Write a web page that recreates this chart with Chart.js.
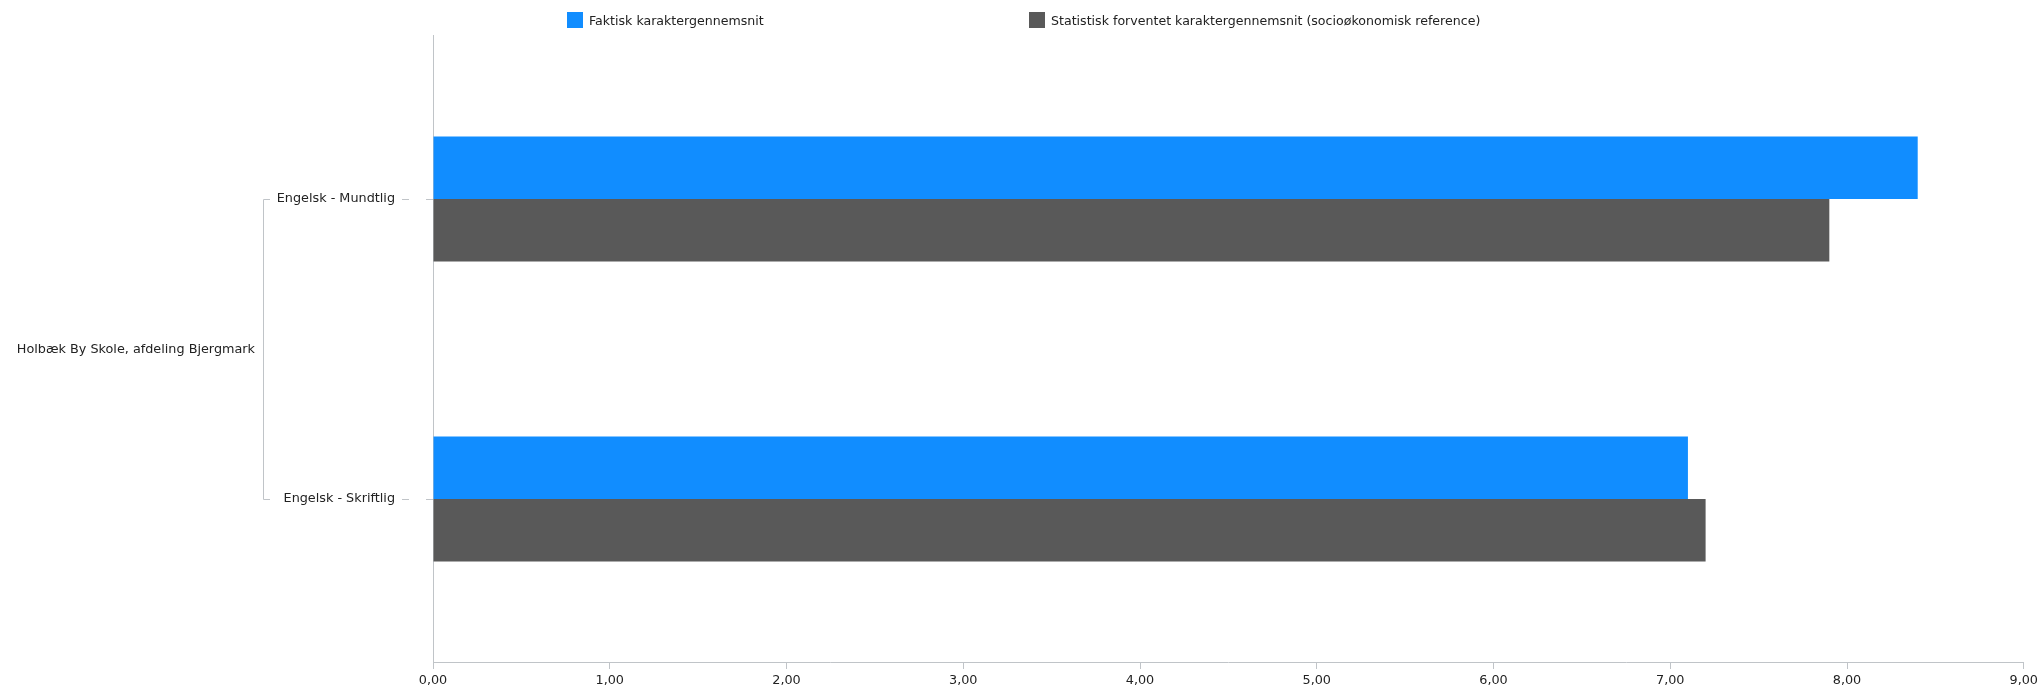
<!DOCTYPE html>
<html>
<head>
<meta charset="utf-8">
<script src="https://cdn.jsdelivr.net/npm/chart.js@4.4.1/dist/chart.umd.min.js"></script>
<style>
    html, body { margin: 0; padding: 0; background: #fff; }
    #wrap { position: relative; width: 2042px; height: 690px; }
    #legend {
        position: absolute; left: 567px; top: 12px;
        display: flex; font: 12.6px "DejaVu Sans", sans-serif; color: #222;
    }
    .item { display: flex; align-items: center; height: 16px; white-space: nowrap; }
    .item:first-child { width: 462px; }
    .box { width: 16px; height: 16px; margin-right: 6px; }
</style>
</head>
<body>
<div id="wrap">
    <canvas id="chart" width="2042" height="690"></canvas>
    <div id="legend"></div>
</div>
<script>
// Data
const group = "Holbæk By Skole, afdeling Bjergmark";
const categories = ["Engelsk - Mundtlig", "Engelsk - Skriftlig"];
const actual = [8.40, 7.10];
const expected = [7.90, 7.20];
const seriesNames = ["Faktisk karaktergennemsnit", "Statistisk forventet karaktergennemsnit (socioøkonomisk reference)"];
const seriesColors = ["#118dff", "#595959"];
const xTicks = [0, 1, 2, 3, 4, 5, 6, 7, 8, 9];

const FONT = { family: "'DejaVu Sans', sans-serif", size: 12.8 };
const LINE = '#c0c4c8';

// school bracket + extra dash after labels
const bracketPlugin = {
    id: 'bracket',
    afterDraw(chart) {
        const ctx = chart.ctx;
        const y = chart.scales.y;
        const y0 = Math.round(y.getPixelForValue(0)) + 0.5;
        const y1 = Math.round(y.getPixelForValue(categories.length - 1)) + 0.5;
        ctx.save();
        ctx.strokeStyle = LINE;
        ctx.lineWidth = 1;
        ctx.beginPath();
        ctx.moveTo(270, y0); ctx.lineTo(263.5, y0);
        ctx.lineTo(263.5, y1); ctx.lineTo(270, y1);
        categories.forEach((c, i) => {
            const p = Math.round(y.getPixelForValue(i)) + 0.5;
            ctx.moveTo(402, p); ctx.lineTo(409, p);
        });
        ctx.stroke();
        ctx.fillStyle = '#222';
        ctx.font = FONT.size + 'px ' + FONT.family;
        ctx.textAlign = 'right';
        ctx.textBaseline = 'middle';
        ctx.fillText(group, 255, (y0 + y1) / 2);
        ctx.restore();
    }
};

const datasets = [actual, expected].map((vals, d) => ({
    label: seriesNames[d],
    data: vals.map((v, i) => ({ x: v, y: i })),
    backgroundColor: seriesColors[d],
    categoryPercentage: 0.417,
    barPercentage: 1.0
}));

new Chart(document.getElementById('chart'), {
    type: 'bar',
    data: { datasets },
    options: {
        indexAxis: 'y',
        responsive: false,
        animation: false,
        layout: { padding: { top: 35, right: 18, bottom: 0, left: 0 } },
        plugins: {
            legend: { display: false },
            tooltip: { enabled: false }
        },
        scales: {
            x: {
                type: 'linear',
                min: 0,
                max: 9,
                afterBuildTicks: axis => { axis.ticks = xTicks.map(v => ({ value: v })); },
                afterFit: axis => { axis.height = 28; },
                grid: { drawOnChartArea: false, drawTicks: true, tickLength: 7, color: LINE },
                border: { color: LINE },
                ticks: {
                    padding: 4,
                    color: '#222',
                    font: FONT,
                    maxRotation: 0,
                    callback: v => v.toFixed(2).replace('.', ',')
                }
            },
            y: {
                type: 'linear',
                reverse: true,
                offset: false,
                min: -0.5467,
                max: 1.5433,
                afterBuildTicks: axis => { axis.ticks = categories.map((c, i) => ({ value: i })); },
                afterFit: axis => {
                    axis.width = 433;
                    axis.paddingTop = 0;
                    axis.paddingBottom = 0;
                },
                grid: { offset: false, drawOnChartArea: false, drawTicks: true, tickLength: 7, color: LINE },
                border: { color: LINE },
                ticks: {
                    padding: 31,
                    color: '#222',
                    font: FONT,
                    callback: v => categories[v]
                }
            }
        }
    },
    plugins: [bracketPlugin]
});

// HTML legend
const legend = document.getElementById('legend');
seriesNames.forEach((name, i) => {
    legend.innerHTML += `<div class="item"><span class="box" style="background:${seriesColors[i]}"></span>${name}</div>`;
});
</script>
</body>
</html>
